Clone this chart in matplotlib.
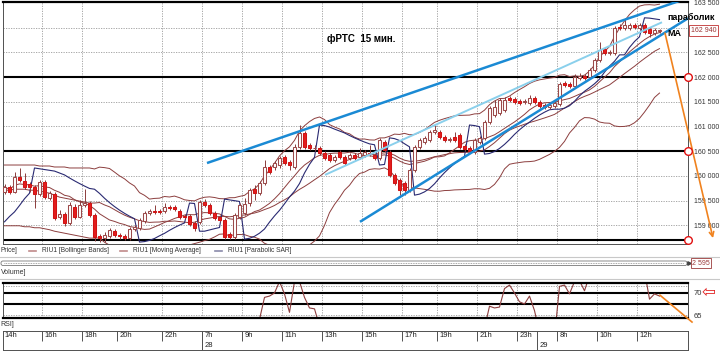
import numpy as np
import pandas as pd
import matplotlib
matplotlib.use("Agg")
import matplotlib.pyplot as plt
import matplotlib.transforms as mtransforms
from matplotlib import font_manager as fm
from matplotlib.patches import FancyBboxPatch

avail = {f.name for f in fm.fontManager.ttflist}
SMALL = 'Liberation Sans Narrow' if 'Liberation Sans Narrow' in avail else 'Liberation Sans'
plt.rcParams['font.family'] = ['Liberation Sans', 'DejaVu Sans']

# ---------------- data ----------------
hour_labels = ['14h', '16h', '18h', '20h', '22h', '7h', '9h', '11h', '13h', '15h',
               '17h', '19h', '21h', '23h', '8h', '10h', '12h']
hour_index = [0, 8, 16, 23, 32, 40, 48, 56, 64, 72, 80, 87, 95, 103, 111, 119, 127]
date_labels = ['28', '29']
date_index = [40, 107]

opens = [159670, 159780, 159670, 159980, 159900, 159840, 159780, 159630, 159880, 159550,
         159630, 159170, 159230, 159050, 159370, 159170, 159410, 159450, 159210, 158780,
         158740, 158780, 158880, 158800, 158780, 158740, 158930, 158950, 159090, 159250,
         159290, 159290, 159290, 159370, 159370, 159290, 159190, 159190, 159050, 159070,
         159470, 159410, 159250, 159170, 159110, 158820, 158760, 159170, 159250, 159450,
         159730, 159650, 159860, 160180, 160180, 160220, 160380, 160280, 160180, 160590,
         160870, 160630, 160560, 160560, 160460, 160420, 160320, 160480, 160380, 160360,
         160420, 160380, 160420, 160460, 160420, 160360, 160690, 160480, 160020, 159920,
         159860, 159710, 160120, 160590, 160690, 160730, 160890, 160890, 160790, 160730,
         160790, 160830, 160610, 160560, 160480, 160690, 160770, 161090, 161230, 161270,
         161330, 161580, 161560, 161520, 161500, 161480, 161580, 161500, 161440, 161390,
         161420, 161460, 161880, 161860, 161820, 161980, 162020, 162000, 162140, 162350,
         162570, 162490, 162490, 163010, 162990, 162990, 163050, 162990, 163050, 162970,
         162890, 162930]
closes = [159780, 159670, 159980, 159920, 159780, 159780, 159630, 159880, 159570, 159650,
          159150, 159230, 159050, 159410, 159170, 159410, 159450, 159210, 158760, 158740,
          158800, 158910, 158800, 158780, 158740, 158930, 158970, 159110, 159250, 159290,
          159270, 159270, 159370, 159350, 159330, 159170, 159170, 159030, 158950, 159470,
          159410, 159250, 159150, 159110, 158760, 158760, 159210, 159410, 159430, 159710,
          159650, 159860, 160180, 160080, 160260, 160360, 160260, 160220, 160590, 160870,
          160590, 160560, 160560, 160460, 160360, 160320, 160380, 160380, 160260, 160420,
          160360, 160460, 160480, 160440, 160360, 160730, 160520, 160020, 159860, 159710,
          159710, 160120, 160590, 160730, 160770, 160890, 160930, 160790, 160730, 160750,
          160730, 160590, 160540, 160500, 160730, 160770, 161090, 161370, 161390, 161540,
          161540, 161540, 161500, 161480, 161500, 161580, 161500, 161420, 161390, 161440,
          161480, 161860, 161840, 161820, 162000, 162020, 161980, 162140, 162350, 162550,
          162490, 162510, 162990, 162990, 163050, 163050, 163010, 163050, 162910, 162890,
          162950, 162930]
highs = [159840, 159820, 160080, 160160, 160060, 159880, 159820, 159920, 159920, 159690,
         159670, 159310, 159270, 159470, 159430, 159510, 159730, 159490, 159250, 158820,
         158860, 158950, 158930, 158840, 158820, 158970, 159010, 159150, 159290, 159330,
         159410, 159330, 159450, 159410, 159410, 159330, 159230, 159230, 159090, 159510,
         159530, 159450, 159290, 159210, 159150, 158860, 159250, 159450, 159550, 159750,
         159820, 159900, 160320, 160220, 160300, 160400, 160420, 160320, 160650, 161030,
         160910, 160670, 160630, 160610, 160500, 160460, 160420, 160520, 160420, 160460,
         160460, 160560, 160520, 160630, 160460, 160770, 160730, 160520, 160060, 159960,
         159900, 160160, 160630, 160770, 160810, 160930, 161030, 160930, 160830, 160790,
         160890, 160870, 160650, 160610, 160770, 160810, 161130, 161420, 161540, 161580,
         161600, 161620, 161600, 161560, 161560, 161640, 161620, 161540, 161480, 161480,
         161520, 161900, 161920, 161900, 162060, 162080, 162060, 162180, 162390, 162710,
         162610, 162550, 163030, 163070, 163200, 163090, 163090, 163090, 163090, 163010,
         162990, 162970]
lows = [159630, 159630, 159650, 159880, 159730, 159670, 159350, 159590, 159530, 159510,
        159110, 159130, 158990, 159010, 159130, 159150, 159370, 159170, 158680, 158660,
        158660, 158740, 158760, 158720, 158700, 158700, 158880, 158910, 159050, 159210,
        159230, 159230, 159250, 159310, 159290, 159130, 159130, 158990, 158880, 159030,
        159370, 159210, 159110, 159070, 158720, 158720, 158720, 159130, 159210, 159390,
        159510, 159610, 159820, 160040, 160120, 160160, 160220, 160120, 160140, 160540,
        160540, 160520, 160500, 160420, 160320, 160280, 160280, 160340, 160220, 160320,
        160320, 160340, 160380, 160400, 160320, 160320, 160480, 159980, 159820, 159610,
        159610, 159670, 160080, 160540, 160650, 160690, 160850, 160750, 160690, 160690,
        160690, 160540, 160500, 160460, 160440, 160650, 160730, 161050, 161190, 161230,
        161290, 161500, 161460, 161440, 161460, 161440, 161460, 161370, 161350, 161350,
        161370, 161420, 161800, 161780, 161780, 161940, 161940, 161960, 162100, 162310,
        162450, 162450, 162450, 162950, 162950, 162950, 162970, 162950, 162870, 162810,
        162850, 162890]
rsi = [48, 45, 55, 52, 47, 46, 42, 50, 40, 43,
       33, 36, 32, 45, 38, 46, 47, 40, 30, 29,
       32, 37, 34, 33, 31, 42, 44, 50, 55, 56,
       55, 55, 57, 56, 55, 48, 48, 42, 40, 53,
       52, 47, 44, 43, 36, 36, 48, 53, 54, 58,
       60, 64.0, 69.0, 69.3, 70.0, 72.6, 69.8, 65.6, 72.6, 72.6,
       69.0, 66.6, 66.4, 62.5, 59, 58, 59, 57, 55, 58,
       57, 59, 60, 59, 57, 63, 60, 45, 40, 36,
       36, 45, 55, 58, 60, 62, 63, 60, 57, 58,
       56, 51, 50, 48, 52, 54, 62, 67.0, 66.6, 66.8,
       71.0, 71.8, 70.0, 68.0, 67.5, 69.3, 66.0, 61, 58, 57,
       60, 71.5, 71.8, 69.8, 72.6, 72.8, 70.5, 74, 76, 78,
       79, 77, 80, 81, 81, 82, 80, 79, 75, 68.6,
       69.8, 69.3]

# Bollinger values read for the first candles (before a full 20-bar window)
bb_upper_head = [160220, 160220, 160220, 160220, 160220, 160220, 160220, 160200, 160200, 160200,
                 160180, 160180, 160180, 160160, 160160, 160160, 160160, 160160, 160140]
bb_mid_head = [159710, 159710, 159730, 159730, 159730, 159710, 159710, 159690, 159670, 159650,
               159610, 159570, 159550, 159530, 159510, 159490, 159470, 159450, 159450]
bb_lower_head = [158990, 158990, 158990, 158990, 158970, 158970, 158950, 158950, 158930, 158910,
                 158880, 158860, 158840, 158820, 158800, 158780, 158760, 158740, 158740]
bb_period = 20
ma_period = 12
sar_start = 159070
sar_af_start = 0.14

price_ticks = [163500, 162500, 162000, 161500, 161000, 160500, 160000, 159500, 159000]
grid_prices = [163000, 162500, 161500, 161000, 160000, 159500, 159000]
level_prices = [162000, 160500, 158700]
last_price = 162940

upper_line_t = [40.5, 135.5]
upper_line_p = [160260, 163560]
lower_line_t = [71.1, 136.7]
lower_line_p = [159070, 163190]
light_line_t = [64.1, 131.5]
light_line_p = [160020, 163110]
down_arrow_t = [132.1, 141.7]
down_arrow_p = [162890, 158740]
rsi_arrow_t = [131.1, 137.5]
rsi_arrow_v = [69.5, 63.4]
rsi_levels = [70, 67.5]
rsi_grid = [65, 71.5]
rsi_ticks = [70, 65]

# ---------------- indicators ----------------
n = len(closes)
idx = np.arange(n)
o = np.array(opens, float)
c = np.array(closes, float)
h = np.array(highs, float)
l = np.array(lows, float)

s = pd.Series(c)
bb_mid = s.rolling(bb_period).mean()
bb_sd = s.rolling(bb_period).std(ddof=0)
bb_up = bb_mid + 2 * bb_sd
bb_lo = bb_mid - 2 * bb_sd
k0 = len(bb_mid_head)
bb_mid.iloc[:k0] = bb_mid_head
bb_up.iloc[:k0] = bb_upper_head
bb_lo.iloc[:k0] = bb_lower_head
ma = s.rolling(ma_period, min_periods=1).mean()


def parabolic_sar(hi, lo, start, af_start, step=0.02, af_max=0.2):
    out = np.empty(len(hi))
    up = True
    af = af_start
    ep = hi[0]
    sar = start
    out[0] = sar
    for k in range(1, len(hi)):
        sar = sar + af * (ep - sar)
        if up:
            sar = min(sar, lo[k - 1], lo[k - 2] if k > 1 else lo[k - 1])
            if lo[k] < sar:
                up, sar, ep, af = False, ep, lo[k], step
            elif hi[k] > ep:
                ep, af = hi[k], min(af + step, af_max)
        else:
            sar = max(sar, hi[k - 1], hi[k - 2] if k > 1 else hi[k - 1])
            if hi[k] > sar:
                up, sar, ep, af = True, ep, hi[k], step
            elif lo[k] < ep:
                ep, af = lo[k], min(af + step, af_max)
        out[k] = sar
    return out


sar = parabolic_sar(h, l, sar_start, sar_af_start)

# ---------------- figure ----------------
W, H = 720, 351
fig = plt.figure(figsize=(7.2, 3.51), dpi=100)


def rect(x0, y0, x1, y1):
    return [x0 / W, 1 - y1 / H, (x1 - x0) / W, (y1 - y0) / H]


XL = (-0.3, 136.7)
BROWN = '#8c3e3e'
BLUE = '#1a8ad4'
ORANGE = '#f0821e'
GRID = '#9a9a9a'

ax = fig.add_axes(rect(3, 2, 688, 244))
ax.set_xlim(*XL)
ax.set_ylim(158621, 163520)
ax.set_xticks([])
ax.yaxis.tick_right()
ax.set_yticks(price_ticks)
ax.set_yticklabels([f"{v // 1000} {v % 1000:03d}" for v in price_ticks],
                   fontsize=5, color='#333333', family=SMALL)
ax.tick_params(axis='y', length=0, pad=4)
for sp in ['left', 'right', 'bottom']:
    ax.spines[sp].set_linewidth(0.7)
    ax.spines[sp].set_color('#505050')
ax.spines['top'].set_linewidth(1.6)
ax.spines['top'].set_color('black')

# grid
ax.hlines(grid_prices, XL[0], XL[1], colors=GRID, linestyles=(0, (1.5, 1.5)), lw=0.6, zorder=0)
vgrid = [i - 0.5 for i, lab in zip(hour_index, hour_labels) if lab not in ('14h', '20h')]
ax.vlines(vgrid, 158621, 163520, colors=GRID, linestyles=(0, (1.5, 1.5)), lw=0.6, zorder=0)
# black level lines
ax.hlines(level_prices, XL[0], XL[1], colors='black', lw=1.5, zorder=1)

# indicators
ax.plot(idx, bb_up, color=BROWN, lw=0.7, zorder=2)
ax.plot(idx, bb_mid, color=BROWN, lw=0.7, zorder=2)
ax.plot(idx, bb_lo, color=BROWN, lw=0.7, zorder=2)
ax.plot(idx, ma, color=BROWN, lw=0.7, zorder=2)
ax.plot(idx, sar, color='#2a2a72', lw=0.8, zorder=2)

# candles
bull = c >= o
ax.vlines(idx, l, h, colors='#8c3c3c', lw=0.7, zorder=3)
body = np.maximum(np.abs(c - o), 14)
bottom = np.minimum(o, c)
ax.bar(idx[bull], body[bull], bottom=bottom[bull], width=0.7,
       facecolor='white', edgecolor='#9c4a4a', lw=0.75, zorder=4)
ax.bar(idx[~bull], body[~bull], bottom=bottom[~bull], width=0.7,
       facecolor='#e41e1e', edgecolor='#d01414', lw=0.75, zorder=4)

# trend lines
ax.plot(upper_line_t, upper_line_p, color=BLUE, lw=1.8, zorder=5, solid_capstyle='butt')
ax.plot(lower_line_t, lower_line_p, color=BLUE, lw=1.8, zorder=5, solid_capstyle='butt')
ax.plot(light_line_t, light_line_p, color='#8ad0ec', lw=1.4, zorder=5, solid_capstyle='butt')
ax.annotate('', xy=(down_arrow_t[1], down_arrow_p[1]), xytext=(down_arrow_t[0], down_arrow_p[0]),
            arrowprops=dict(arrowstyle='->', color=ORANGE, lw=1.2, mutation_scale=8,
                            shrinkA=0, shrinkB=0),
            annotation_clip=False, zorder=6)
ax.plot([XL[1]] * len(level_prices), level_prices, 'o', mfc='white', mec='#e01010',
        ms=5.5, mew=1.0, clip_on=False, zorder=7)

trans = mtransforms.blended_transform_factory(ax.transAxes, ax.transData)
ax.text(1.004, last_price, '162 940', transform=trans, fontsize=5, color='#9b3030',
        family=SMALL, va='center', ha='left',
        bbox=dict(boxstyle='square,pad=0.25', fc='white', ec='#c03030', lw=0.6), zorder=8)

# ---------------- RSI panel ----------------
axr = fig.add_axes(rect(3, 283, 688, 318))
axr.set_xlim(*XL)
axr.set_ylim(64.32, 72.27)
axr.set_xticks([])
axr.yaxis.tick_right()
axr.set_yticks(rsi_ticks)
axr.set_yticklabels([str(v) for v in rsi_ticks], fontsize=5.5, color='#333333', family=SMALL)
axr.tick_params(axis='y', length=0, pad=4)
for sp in ['top', 'bottom']:
    axr.spines[sp].set_linewidth(1.6)
    axr.spines[sp].set_color('black')
for sp in ['left', 'right']:
    axr.spines[sp].set_linewidth(0.7)
    axr.spines[sp].set_color('#505050')
axr.hlines(rsi_grid, XL[0], XL[1], colors=GRID, linestyles=(0, (1.5, 1.5)), lw=0.6, zorder=0)
axr.vlines(vgrid, 64.32, 72.27, colors=GRID, linestyles=(0, (1.5, 1.5)), lw=0.6, zorder=0)
axr.hlines(rsi_levels, XL[0], XL[1], colors='black', lw=1.5, zorder=1)
axr.plot(idx, rsi, color=BROWN, lw=0.8, zorder=2)
axr.plot(rsi_arrow_t, rsi_arrow_v, color=ORANGE, lw=1.2, clip_on=False, zorder=3)

# ---------------- time axis ----------------
axt = fig.add_axes(rect(3, 331, 688, 350))
axt.set_xlim(*XL)
axt.set_ylim(0, 1)
axt.set_xticks([])
axt.set_yticks([])
for sp in axt.spines.values():
    sp.set_linewidth(0.7)
    sp.set_color('#505050')
for i, lab in zip(hour_index, hour_labels):
    x = i - 0.5
    y0 = 0 if i in date_index else 0.5
    axt.vlines(x, y0, 1, colors='#505050', lw=0.7)
    axt.text(x + 0.45, 0.74, lab, fontsize=5.5, family=SMALL, color='#222222',
             ha='left', va='center')
for i, lab in zip(date_index, date_labels):
    x = i - 0.5
    axt.vlines(x, 0, 1, colors='#505050', lw=0.7)
    axt.text(x + 0.45, 0.26, lab, fontsize=5.5, family=SMALL, color='#222222',
             ha='left', va='center')

# ---------------- overlay decorations ----------------
axo = fig.add_axes([0, 0, 1, 1], facecolor='none')
axo.set_xlim(0, W)
axo.set_ylim(H, 0)
axo.axis('off')

axo.text(327, 39, 'фРТС  15 мин.', fontsize=7, fontweight='bold', ha='left', va='center')
axo.text(667, 17, 'параболик', fontsize=6.5, fontweight='bold', ha='left', va='center')
axo.text(667, 33, 'MA', fontsize=6.5, fontweight='bold', ha='left', va='center')

# legend row
axo.text(0.5, 251, 'Price]', fontsize=4.8, family=SMALL, color='#333333', va='center')
legend_items = [(29, '#c08a8a', 'RIU1 [Bollinger Bands]'),
                (120, '#c08a8a', 'RIU1 [Moving Average]'),
                (215, '#8a8aaa', 'RIU1 [Parabolic SAR]')]
for x0, col, txt in legend_items:
    axo.plot([x0, x0 + 7], [251, 251], color=col, lw=1.2)
    axo.text(x0 + 13, 251, txt, fontsize=4.8, family=SMALL, color='#333333', va='center')

# volume strip
axo.plot([0, W], [257, 257], color='#c8c8c8', lw=0.8)
axo.plot([0, W], [279, 279], color='#c8c8c8', lw=0.8)
axo.add_patch(FancyBboxPatch((1, 261), 686, 4.5, boxstyle='round,pad=0,rounding_size=2',
                             ec='#777777', fc='white', lw=0.6))
axo.plot([4, 684], [263.3, 263.3], color='#8a8a8a', lw=0.6, ls=(0, (1, 1)))
axo.plot([689], [263.3], marker='>', color='#444444', ms=2.5)
axo.text(692, 263.3, '2 595', fontsize=5, family=SMALL, color='#9b3b3b', va='center', ha='left',
         bbox=dict(boxstyle='square,pad=0.2', fc='white', ec='#9b3b3b', lw=0.6))
axo.text(0.5, 273, 'Volume]', fontsize=5, family=SMALL, color='#333333', va='center')
axo.text(0.5, 325, 'RSI]', fontsize=5, family=SMALL, color='#333333', va='center')
axo.text(702, 292, '⇦', fontsize=12, family='DejaVu Sans', color='#e02020',
         va='center', ha='left')

fig.savefig('out.png', dpi=100)
